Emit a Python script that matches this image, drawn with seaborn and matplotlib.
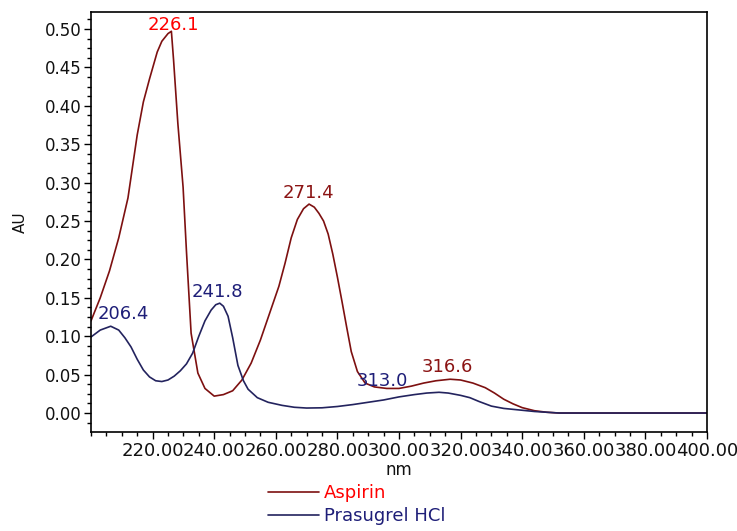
import numpy as np
import pandas as pd
import matplotlib
matplotlib.use("Agg")
import matplotlib.pyplot as plt
from matplotlib.ticker import MultipleLocator, FormatStrFormatter
from matplotlib.lines import Line2D
import seaborn as sns

# ---- data ----
aspirin_nm = [200, 203, 206, 209, 212, 215, 217, 219, 221.5, 223, 225, 226.1,
              226.8, 228.2, 229.9, 231, 232.5, 234.7, 237, 240, 243, 246, 249,
              252, 255, 258, 261, 263, 265, 267, 269, 270.8, 272.5,
              274, 275.5, 277, 278.5, 280, 281.5, 283, 284.5, 286.5, 289, 292,
              296, 300, 304, 308, 312, 316.6, 320, 324, 328, 331, 334, 337,
              340, 344, 348, 352, 360, 380, 400]
aspirin_au = [0.120, 0.150, 0.185, 0.228, 0.280, 0.362, 0.405, 0.435, 0.470,
              0.484, 0.494, 0.497, 0.460, 0.377, 0.294, 0.210, 0.104, 0.052,
              0.032, 0.022, 0.024, 0.029, 0.043, 0.065, 0.095, 0.130, 0.165,
              0.195, 0.228, 0.252, 0.266, 0.272, 0.268, 0.260, 0.250, 0.233,
              0.207, 0.177, 0.145, 0.112, 0.080, 0.054, 0.039, 0.034,
              0.032, 0.032, 0.035, 0.039, 0.042, 0.044, 0.043, 0.039, 0.033,
              0.026, 0.018, 0.012, 0.007, 0.003, 0.001, 0.000, 0.000, 0.000,
              0.000]

prasugrel_nm = [200, 203, 206.4, 209, 211, 213, 215, 217, 219, 221, 223, 225,
                227, 229, 231, 233, 235, 237, 239, 240.5, 241.8, 243, 244.5,
                246, 247.7, 249.5, 251, 254, 257.5, 262, 266, 270, 275, 280,
                285, 290, 295, 300, 305, 309, 313, 316, 320, 323, 326, 330,
                334, 339, 344, 348, 352, 400]
prasugrel_au = [0.099, 0.108, 0.113, 0.108, 0.098, 0.086, 0.070, 0.056, 0.047,
                0.042, 0.041, 0.043, 0.048, 0.055, 0.064, 0.078, 0.100, 0.120,
                0.134, 0.141, 0.143, 0.139, 0.126, 0.098, 0.062, 0.042, 0.031,
                0.020, 0.014, 0.010, 0.0075, 0.0065, 0.0068, 0.0085, 0.011,
                0.014, 0.017, 0.021, 0.024, 0.026, 0.027, 0.026, 0.023, 0.020,
                0.015, 0.009, 0.006, 0.004, 0.002, 0.001, 0.000, 0.000]

series_names = ["Aspirin", "Prasugrel HCl"]
peak_labels = ["226.1", "271.4", "241.8", "206.4", "313.0", "316.6"]
peak_label_x = [226.6, 270.5, 240.9, 210.4, 294.5, 315.6]
peak_label_y = [0.505, 0.286, 0.158, 0.129, 0.042, 0.060]
x_ticks = [220, 240, 260, 280, 300, 320, 340, 360, 380, 400]

# ---- styling ----
sns.set_theme(style="white")
plt.rcParams['font.family'] = ['DejaVu Sans']

c_asp = "#7d1010"
c_pra = "#23235e"
label_colors = ["#ff0000", "#8b1414", "#1e1e78", "#1e1e78", "#1e1e78", "#8b1414"]

fig = plt.figure(figsize=(7.37, 5.31), dpi=100)
ax = fig.add_axes([91/737, 1-432/531, (707-91)/737, (432-12)/531])

df_a = pd.DataFrame({"nm": aspirin_nm, "AU": aspirin_au})
df_p = pd.DataFrame({"nm": prasugrel_nm, "AU": prasugrel_au})
sns.lineplot(data=df_a, x="nm", y="AU", color=c_asp, lw=1.2, ax=ax,
             estimator=None, sort=False)
sns.lineplot(data=df_p, x="nm", y="AU", color=c_pra, lw=1.2, ax=ax,
             estimator=None, sort=False)

for t, x, y, c in zip(peak_labels, peak_label_x, peak_label_y, label_colors):
    ax.text(x, y, t, color=c, fontsize=13, ha="center", va="center")

ax.set_xlim(200, 400)
ax.set_ylim(-0.0247, 0.5221)
ax.set_xticks(x_ticks)
ax.xaxis.set_major_formatter(FormatStrFormatter("%.2f"))
ax.xaxis.set_minor_locator(MultipleLocator(5))
ax.set_yticks(np.arange(0, 0.501, 0.05))
ax.yaxis.set_major_formatter(FormatStrFormatter("%.2f"))
ax.yaxis.set_minor_locator(MultipleLocator(0.0125))

for s in ax.spines.values():
    s.set_visible(True)
    s.set_color("black")
    s.set_linewidth(1.2)

ax.tick_params(axis="both", which="both", direction="out", color="black",
               bottom=True, left=True, top=False, right=False)
ax.tick_params(axis="both", which="major", length=5, width=1, pad=2)
ax.tick_params(axis="both", which="minor", length=3, width=1)
ax.tick_params(axis="x", labelsize=13, labelcolor="#111111")
ax.tick_params(axis="y", labelsize=12, labelcolor="#111111")

ax.set_xlabel("nm", fontsize=12, color="#111111", labelpad=1)
ax.set_ylabel("AU", fontsize=11, color="#111111", labelpad=12)
ax.grid(False)

handles = [Line2D([0], [0], color=c_asp, lw=1.2),
           Line2D([0], [0], color=c_pra, lw=1.2)]
leg = fig.legend(handles, series_names, loc="upper left",
                 bbox_to_anchor=(268/737, 1-484/531), frameon=False,
                 fontsize=13, handlelength=2.8, handletextpad=0.3,
                 labelspacing=0.3, borderpad=0, borderaxespad=0,
                 labelcolor=["#ff0000", "#1e1e78"])

fig.savefig("out.png", dpi=100)
